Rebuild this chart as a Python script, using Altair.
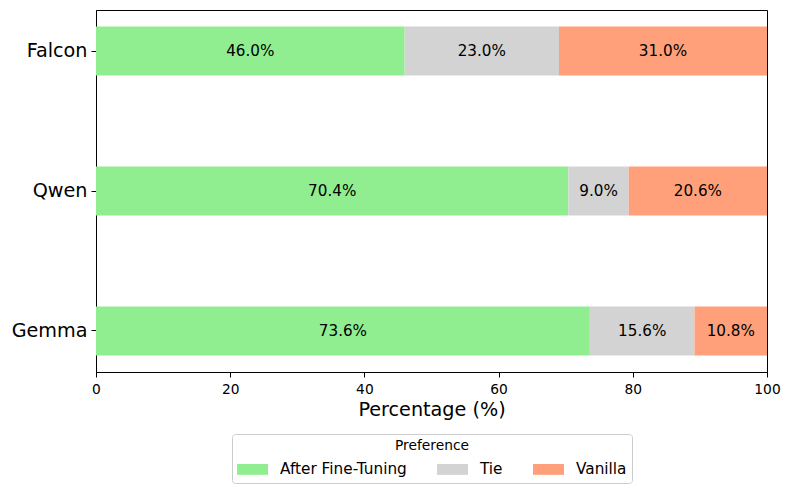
import altair as alt
import pandas as pd

models = ["Falcon", "Qwen", "Gemma"]
prefs = ["After Fine-Tuning", "Tie", "Vanilla"]
after_ft = [46.0, 70.4, 73.6]
tie = [23.0, 9.0, 15.6]
vanilla = [31.0, 20.6, 10.8]
colors = ["#90EE90", "#D3D3D3", "#FFA07A"]
x_ticks = [0, 20, 40, 60, 80, 100]

rows = []
for i, m in enumerate(models):
    for j, (p, vals) in enumerate(zip(prefs, [after_ft, tie, vanilla])):
        rows.append({"model": m, "pref": p, "order": j, "value": vals[i],
                     "label": f"{vals[i]:.1f}%"})
df = pd.DataFrame(rows)

FONT = "DejaVu Sans"

base = alt.Chart(df).transform_stack(
    stack="value", groupby=["model"], as_=["x0", "x1"],
    sort=[alt.SortField("order", order="ascending")]
).transform_calculate(mid="(datum.x0 + datum.x1) / 2")

y_enc = alt.Y("model:N", sort=models, title=None,
              scale=alt.Scale(paddingInner=0.65, paddingOuter=0.118),
              axis=alt.Axis(labelFontSize=19.2, labelFont=FONT, labelColor="black",
                            tickSize=5, tickColor="black", labelPadding=4,
                            domainColor="black", grid=False))

bars = base.mark_bar(cornerRadius=0).encode(
    x=alt.X("x0:Q", title="Percentage (%)",
            scale=alt.Scale(domain=[0, 100], nice=False, zero=False),
            axis=alt.Axis(values=x_ticks, labelFontSize=13.8, labelFont=FONT,
                          labelColor="black", tickSize=5, tickColor="black",
                          labelPadding=5, titleFontSize=19.2, titleFont=FONT,
                          titleFontWeight="normal", titleColor="black",
                          titlePadding=5, domainColor="black", grid=False,
                          labelFlush=False)),
    x2="x1:Q",
    y=y_enc,
    color=alt.Color("pref:N", sort=prefs,
                    scale=alt.Scale(domain=prefs, range=colors),
                    legend=alt.Legend(
                        title="Preference", orient="none", direction="horizontal",
                        columns=3, legendX=136, legendY=424,
                        titleFontSize=13.8, titleFont=FONT, titleFontWeight="normal",
                        titleColor="black", titleAnchor="middle", titleAlign="center",
                        titlePadding=1, titleLimit=400,
                        labelFontSize=15.3, labelFont=FONT, labelColor="black",
                        labelOffset=12, labelLimit=300,
                        symbolType="M-1,-0.35H1V0.35H-1Z", symbolSize=961,
                        symbolStrokeWidth=0, symbolOpacity=1,
                        columnPadding=30, padding=5,
                        strokeColor="#cccccc", fillColor="white",
                        cornerRadius=3)),
    order=alt.Order("order:Q"),
)

texts = base.mark_text(fontSize=15.2, font=FONT, color="black").encode(
    x="mid:Q",
    y=alt.Y("model:N", sort=models),
    text="label:N",
)

chart = alt.layer(bars, texts).properties(
    width=671, height=362,
    autosize=alt.AutoSizeParams(type="none"),
    padding={"left": 88, "top": 2, "right": 14, "bottom": 112},
).configure(background="white").configure_view(stroke="black", strokeWidth=1)

chart.save("out.html", embed_options={"renderer": "svg", "actions": False})
